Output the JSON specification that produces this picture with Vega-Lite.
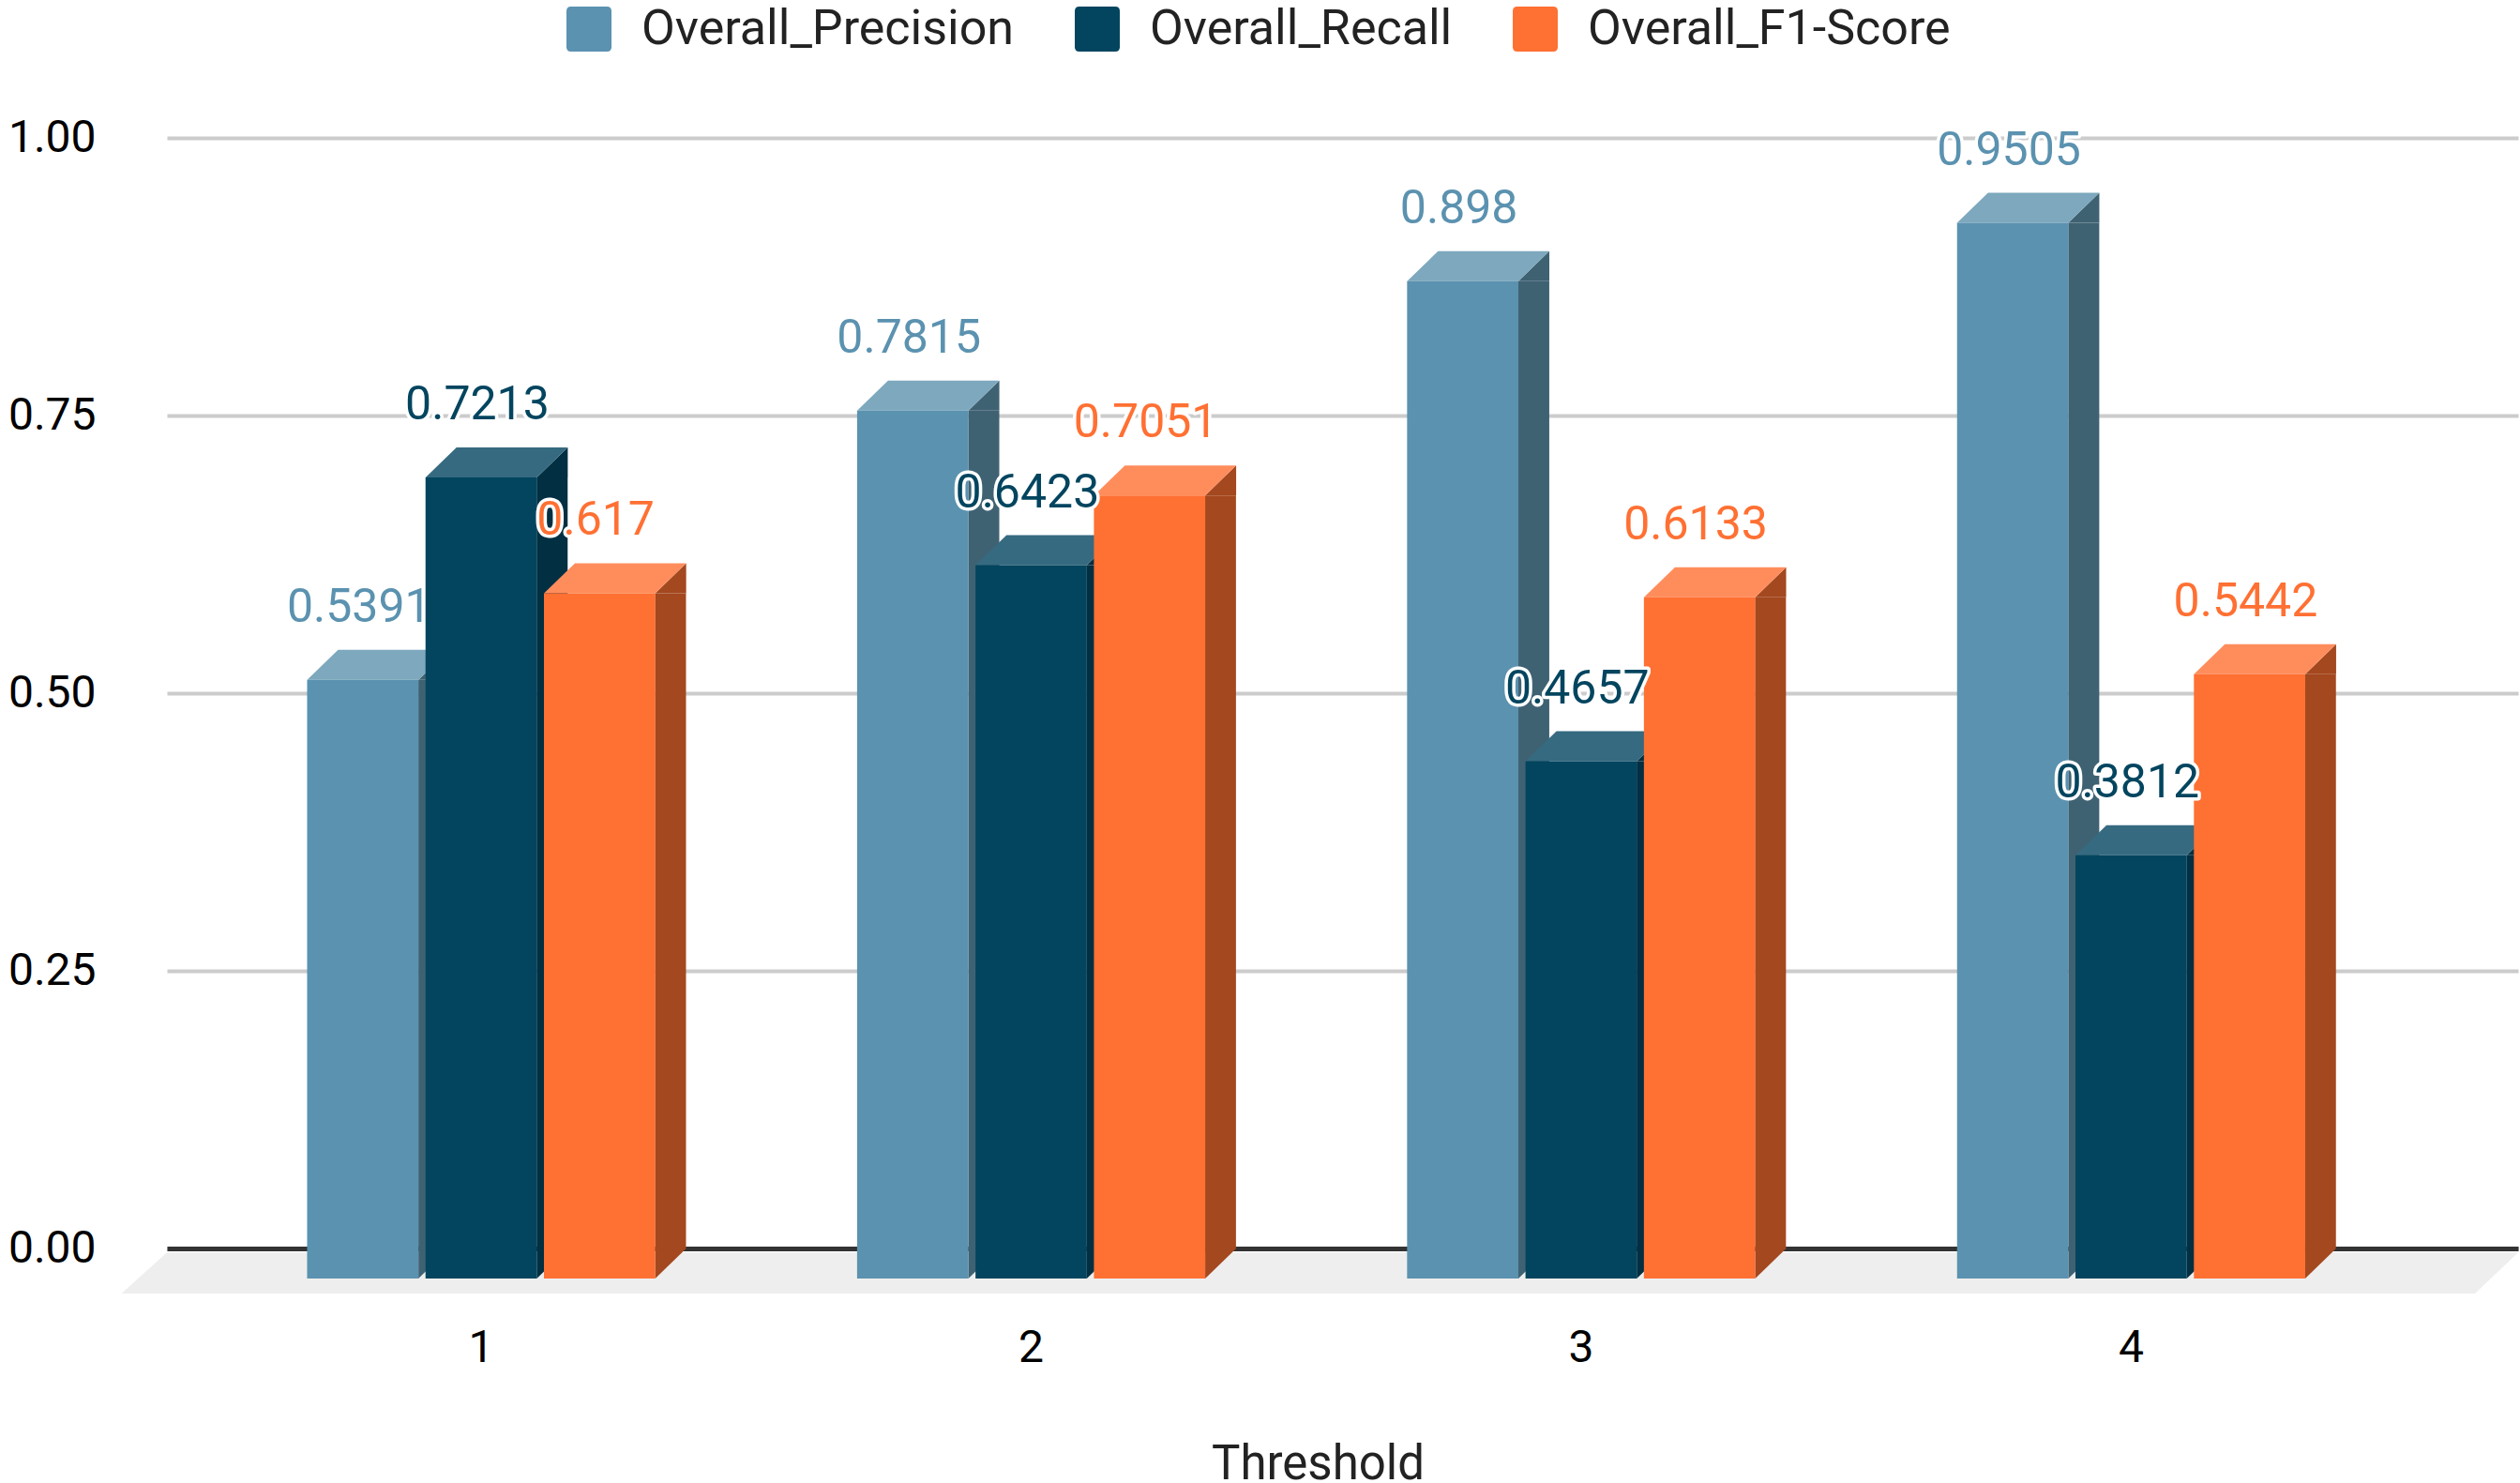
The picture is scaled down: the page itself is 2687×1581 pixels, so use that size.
{
"$schema":"https://vega.github.io/schema/vega-lite/v6.json",
"width":2507,"height":1184,
"autosize":{"type":"none"},
"padding":{"left":178,"top":147,"right":2,"bottom":250},
"background":"#ffffff",
"config":{"view":{"stroke":null},"font":"Roboto"},
"data":{"values":[
{"threshold":"1","series":"Overall_Precision","value":0.5391},
{"threshold":"1","series":"Overall_Recall","value":0.7213},
{"threshold":"1","series":"Overall_F1-Score","value":0.617},
{"threshold":"2","series":"Overall_Precision","value":0.7815},
{"threshold":"2","series":"Overall_Recall","value":0.6423},
{"threshold":"2","series":"Overall_F1-Score","value":0.7051},
{"threshold":"3","series":"Overall_Precision","value":0.898},
{"threshold":"3","series":"Overall_Recall","value":0.4657},
{"threshold":"3","series":"Overall_F1-Score","value":0.6133},
{"threshold":"4","series":"Overall_Precision","value":0.9505},
{"threshold":"4","series":"Overall_Recall","value":0.3812},
{"threshold":"4","series":"Overall_F1-Score","value":0.5442}
]},
"layer":[
{"data":{"values":[{"item":"floor"}]},
 "mark":{"type":"point","filled":true,"fill":"#eeeeee","opacity":1,"strokeWidth":0,"size":7840000,"shape":"M-0.8954,0.003 L0.8954,0.003 L0.8625,0.0343 L-0.93,0.0343 Z"},
 "encoding":{"y":{"datum":0,"type":"quantitative","scale":{"domain":[0,1],"nice":false,"zero":true},
   "axis":{"values":[0,0.25,0.5,0.75,1],"format":".2f","title":null,"domain":false,"ticks":false,"labelFont":"Roboto","labelFontSize":48,"labelColor":"#000000","labelPadding":76,"grid":true,"gridColor":"#cccccc","gridWidth":4,"zindex":0}}}},
{"encoding":{
  "x":{"field":"threshold","type":"nominal","sort":["1","2","3","4"],
    "scale":{"paddingInner":0.367,"paddingOuter":0.321,"align":0.397},
    "axis":{"title":"Threshold","titleFont":"Roboto","titleFontSize":51,"titleFontWeight":"normal","titleColor":"#222222","titleX":1227,"titleY":205,"titleAnchor":"middle","labelAngle":0,"labelFont":"Roboto","labelFontSize":48,"labelColor":"#000000","labelPadding":82,"ticks":false,"domain":true,"domainColor":"#333333","domainWidth":5,"grid":false,"zindex":0}}
 },
 "resolve":{"scale":{"color":"independent","xOffset":"independent"}},
 "layer":[
  {"mark":{"type":"bar","width":33,"yOffset":32},
   "encoding":{"xOffset":{"field":"series","type":"nominal","sort":["Overall_Precision","Overall_Recall","Overall_F1-Score"],"scale":{"type":"band","paddingInner":0.06,"paddingOuter":0,"range":[75.8,446.8]}},
     "y":{"field":"value","type":"quantitative"},"y2":{"datum":0},
     "color":{"field":"series","type":"nominal","legend":null,"scale":{"domain":["Overall_Precision","Overall_Recall","Overall_F1-Score"],"range":["#3f6273","#022f42","#a4481f"]}}}},
  {"mark":{"type":"point","filled":true,"opacity":1,"strokeWidth":0,"size":40000,"shape":"M0.593,0.32 L0.923,0 L0.923,0.32 Z"},
   "encoding":{"xOffset":{"field":"series","type":"nominal","sort":["Overall_Precision","Overall_Recall","Overall_F1-Score"],"scale":{"type":"band","paddingInner":0.06,"paddingOuter":0}},
     "y":{"field":"value","type":"quantitative"},
     "color":{"field":"series","type":"nominal","legend":null,"scale":{"domain":["Overall_Precision","Overall_Recall","Overall_F1-Score"],"range":["#3f6273","#022f42","#a4481f"]}}}},
  {"mark":{"type":"point","filled":true,"opacity":1,"strokeWidth":0,"size":40000,"shape":"M0.593,0 L0.923,0 L0.593,0.32 Z"},
   "encoding":{"xOffset":{"field":"series","type":"nominal","sort":["Overall_Precision","Overall_Recall","Overall_F1-Score"],"scale":{"type":"band","paddingInner":0.06,"paddingOuter":0}},
     "y":{"datum":0,"type":"quantitative"},
     "color":{"field":"series","type":"nominal","legend":null,"scale":{"domain":["Overall_Precision","Overall_Recall","Overall_F1-Score"],"range":["#3f6273","#022f42","#a4481f"]}}}},
  {"mark":{"type":"point","filled":true,"opacity":1,"strokeWidth":0,"size":40000,"shape":"M-0.593,0.32 L0.593,0.32 L0.923,0 L-0.263,0 Z"},
   "encoding":{"xOffset":{"field":"series","type":"nominal","sort":["Overall_Precision","Overall_Recall","Overall_F1-Score"],"scale":{"type":"band","paddingInner":0.06,"paddingOuter":0}},
     "y":{"field":"value","type":"quantitative"},
     "color":{"field":"series","type":"nominal","legend":null,"scale":{"domain":["Overall_Precision","Overall_Recall","Overall_F1-Score"],"range":["#7da8bd","#366a80","#ff8d5c"]}}}},
  {"mark":{"type":"bar","yOffset":32,"y2Offset":32},
   "encoding":{"xOffset":{"field":"series","type":"nominal","sort":["Overall_Precision","Overall_Recall","Overall_F1-Score"],"scale":{"type":"band","paddingInner":0.06,"paddingOuter":0}},
     "y":{"field":"value","type":"quantitative"},"y2":{"datum":0},
     "color":{"field":"series","type":"nominal","scale":{"domain":["Overall_Precision","Overall_Recall","Overall_F1-Score"],"range":["#5b92b0","#03455f","#ff7033"]},
       "legend":{"orient":"none","legendX":424,"legendY":-142,"direction":"horizontal","title":null,"padding":0,"symbolType":"M-0.8,-1 L0.8,-1 Q1,-1 1,-0.8 L1,0.8 Q1,1 0.8,1 L-0.8,1 Q-1,1 -1,0.8 L-1,-0.8 Q-1,-1 -0.8,-1 Z","symbolSize":2304,"symbolStrokeWidth":0,"labelFont":"Roboto","labelFontSize":52,"labelColor":"#222222","labelOffset":30,"labelLimit":800,"columnPadding":62}}}},
  {"mark":{"type":"text","font":"Roboto","fontSize":50,"baseline":"middle","align":"center","yOffset":-45,"stroke":"#ffffff","strokeWidth":7,"strokeJoin":"round"},
   "encoding":{"xOffset":{"field":"series","type":"nominal","sort":["Overall_Precision","Overall_Recall","Overall_F1-Score"],"scale":{"type":"band","paddingInner":0.06,"paddingOuter":0,"range":[-4,367]}},
     "y":{"field":"value","type":"quantitative"},"text":{"field":"value","type":"nominal"}}},
  {"mark":{"type":"text","font":"Roboto","fontSize":50,"baseline":"middle","align":"center","yOffset":-45},
   "encoding":{"xOffset":{"field":"series","type":"nominal","sort":["Overall_Precision","Overall_Recall","Overall_F1-Score"],"scale":{"type":"band","paddingInner":0.06,"paddingOuter":0,"range":[-4,367]}},
     "y":{"field":"value","type":"quantitative"},"text":{"field":"value","type":"nominal"},
     "color":{"field":"series","type":"nominal","legend":null,"scale":{"domain":["Overall_Precision","Overall_Recall","Overall_F1-Score"],"range":["#5b92b0","#03455f","#ff7033"]}}}}
 ]}
]
}
